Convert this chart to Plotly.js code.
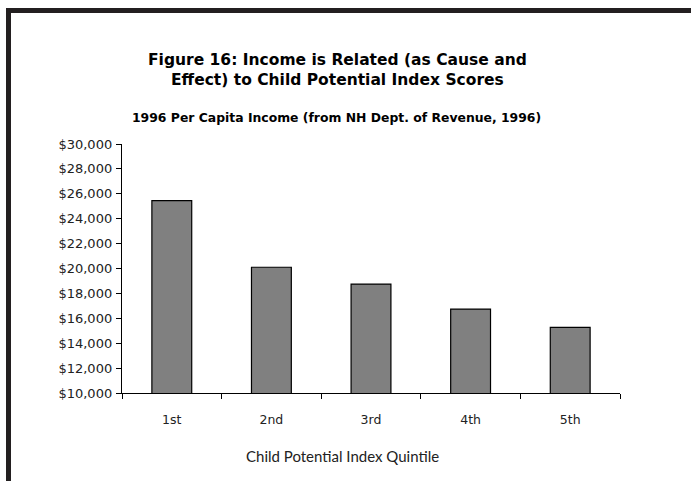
<!DOCTYPE html>
<html>
<head>
<meta charset="utf-8">
<script src="https://cdn.plot.ly/plotly-3.0.1.min.js"></script>
<style>
  html, body { margin: 0; padding: 0; background: #fff; overflow: hidden; width: 691px; height: 481px; }
  #wrap { position: relative; width: 691px; height: 481px; overflow: hidden; }
  #chart { width: 691px; height: 481px; }
  #frame { position: absolute; left: 6px; top: 8px; width: 685px; height: 473px; box-sizing: border-box;
           border-top: 5px solid #231f20; border-left: 5px solid #231f20; pointer-events: none; }
</style>
</head>
<body>
<div id="wrap">
  <div id="chart"></div>
  <div id="frame"></div>
</div>
<script>
const categories = ["1st", "2nd", "3rd", "4th", "5th"];
const incomeValues = [25450, 20100, 18750, 16740, 15270];
const yTickValues = [10000, 12000, 14000, 16000, 18000, 20000, 22000, 24000, 26000, 28000, 30000];
const yTickLabels = ["$10,000", "$12,000", "$14,000", "$16,000", "$18,000", "$20,000", "$22,000", "$24,000", "$26,000", "$28,000", "$30,000"];

const fontBody = "'DejaVu Sans', Lato, sans-serif";
const fontTitle = "Lato, 'Open Sans', sans-serif";
const fontBold = "'DejaVu Sans', Lato, sans-serif";

const trace = {
  type: "bar",
  x: categories,
  y: incomeValues,
  width: 0.4,
  marker: { color: "#808080", line: { color: "#000000", width: 1.2 } },
  hoverinfo: "x+y"
};

const layout = {
  width: 691,
  height: 481,
  margin: { l: 122, r: 71, t: 144, b: 88 },
  paper_bgcolor: "#ffffff",
  plot_bgcolor: "#ffffff",
  showlegend: false,
  font: { family: fontBody, size: 12, color: "#000" },
  xaxis: {
    type: "category",
    showline: true,
    linecolor: "#000",
    linewidth: 1.2,
    ticks: "outside",
    tickson: "boundaries",
    ticklen: 5,
    tickcolor: "#000",
    showgrid: false,
    zeroline: false,
    ticklabelstandoff: 15,
    tickfont: { family: fontBody, size: 12.5, color: "#222" }
  },
  yaxis: {
    range: [10000, 30000],
    tickmode: "array",
    tickvals: yTickValues,
    ticktext: yTickLabels,
    showline: true,
    linecolor: "#000",
    linewidth: 1.2,
    ticks: "outside",
    ticklen: 5,
    tickcolor: "#000",
    showgrid: false,
    zeroline: false,
    ticklabelstandoff: 1,
    tickfont: { family: fontBody, size: 13, color: "#222" }
  },
  annotations: [
    {
      xref: "paper", yref: "paper", x: 0.433, y: 1, yshift: 74, xanchor: "center", yanchor: "middle",
      text: "<b>Figure 16: Income is Related (as Cause and<br>Effect) to Child Potential Index Scores</b>",
      showarrow: false, align: "center",
      font: { family: fontBold, size: 15.5, color: "#000" }
    },
    {
      xref: "paper", yref: "paper", x: 0.431, y: 1, yshift: 27, xanchor: "center", yanchor: "middle",
      text: "<b>1996 Per Capita Income (from NH Dept. of Revenue, 1996)</b>",
      showarrow: false, align: "center",
      font: { family: fontBold, size: 12.4, color: "#000" }
    },
    {
      xref: "paper", yref: "paper", x: 0.442, y: 0, yshift: -63, xanchor: "center", yanchor: "middle",
      text: "Child Potential Index Quintile",
      showarrow: false, align: "center",
      font: { family: fontTitle, size: 15, color: "#222" }
    }
  ]
};

Plotly.newPlot("chart", [trace], layout, { displayModeBar: false, staticPlot: true });
</script>
</body>
</html>
